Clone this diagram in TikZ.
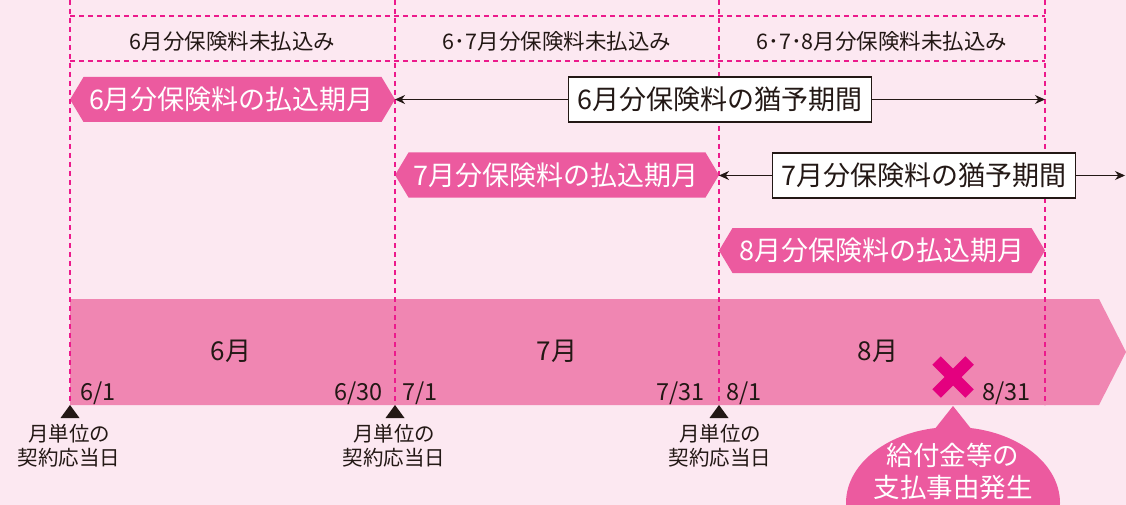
\documentclass[tikz,border=0pt]{standalone}
\usepackage{fontspec}
\setmainfont{Noto Sans CJK JP}
\usetikzlibrary{arrows.meta}
\definecolor{bgpink}{HTML}{FCE8F1}
\definecolor{barpink}{HTML}{F086B2}
\definecolor{hexpink}{HTML}{EC5A9F}
\definecolor{dashpink}{HTML}{EC1A8C}
\definecolor{crosspink}{HTML}{E4007F}
\definecolor{ink}{HTML}{231815}
\begin{document}
\begin{tikzpicture}[x=1pt,y=-1pt,
  guide/.style={dashpink, line width=2.3pt, dash pattern=on 5pt off 4pt},
  hextext/.style={text=white, font=\fontsize{27}{31}\selectfont, inner sep=0pt},
  headtext/.style={text=ink, font=\fontsize{21.5}{25}\selectfont, inner sep=0pt},
  monthtext/.style={text=ink, font=\fontsize{26}{30}\selectfont, inner sep=0pt},
  datetext/.style={text=ink, font=\fontsize{23.5}{27}\selectfont, inner sep=0pt},
  contractlbl/.style={text=ink, font=\fontsize{20.5}{24}\selectfont, inner sep=0pt, align=center},
  gracebox/.style={draw=ink, fill=white, line width=1.3pt, text=ink,
    font=\fontsize{27}{31}\selectfont, inner xsep=9pt, inner ysep=0pt, minimum height=45pt},
  spanarrow/.style={ink, line width=1.3pt, arrows={Stealth[length=10pt,width=9pt]-Stealth[length=10pt,width=9pt]}},
]
\useasboundingbox (0,0) rectangle (1126,505);
\clip (0,0) rectangle (1126,505);
\fill[bgpink] (0,0) rectangle (1126,505);

% timeline bar
\fill[barpink] (70,299) -- (1099,299) -- (1126,352) -- (1099,405) -- (70,405) -- cycle;

% payment-month hexagons
\fill[hexpink] (70,99.5) -- (83.5,77) -- (381.5,77) -- (395,99.5) -- (381.5,122) -- (83.5,122) -- cycle;
\fill[hexpink] (395,175) -- (408.5,152.5) -- (705.5,152.5) -- (719,175) -- (705.5,197.5) -- (408.5,197.5) -- cycle;
\fill[hexpink] (719,250.5) -- (732.5,228) -- (1031.5,228) -- (1045,250.5) -- (1031.5,273) -- (732.5,273) -- cycle;

% guide lines
\foreach \gx in {70,395,719,1045} \draw[guide] (\gx,0) -- (\gx,405);
\draw[guide] (70,16) -- (1045,16);
\draw[guide] (70,61) -- (1045,61);

% triangles
\foreach \tx in {70,395,719} \fill[ink] (\tx,405) -- (\tx+9.5,418) -- (\tx-9.5,418) -- cycle;

% grace period arrows
\coordinate (a1l) at (395,99.5);
\coordinate (a1r) at (1045,99.5);
\draw[spanarrow] (a1l) -- (a1r);
\node[gracebox] (g6) at (720,99.5) {6月分保険料の猶予期間};
\coordinate (a2l) at (719,175.5);
\coordinate (a2r) at (1125,175.5);
\draw[spanarrow] (a2l) -- (a2r);
\node[gracebox] (g7) at (924,175.5) {7月分保険料の猶予期間};

% header texts
\node[headtext] (h1) at (232.5,41) {6月分保険料未払込み};
\node[headtext] (h2) at (557,41) {6･7月分保険料未払込み};
\node[headtext] (h3) at (882,41) {6･7･8月分保険料未払込み};

% hexagon texts
\node[hextext] (p6) at (231.5,99.5) {6月分保険料の払込期月};
\node[hextext] (p7) at (556,175) {7月分保険料の払込期月};
\node[hextext] (p8) at (882,250.5) {8月分保険料の払込期月};

% months
\node[monthtext] (m6) at (231,351) {6月};
\node[monthtext] (m7) at (557,351) {7月};
\node[monthtext] (m8) at (878,351) {8月};

% dates
\node[datetext, anchor=base west] (d61) at (80,400) {6/1};
\node[datetext, anchor=base east] (d630) at (383,400) {6/30};
\node[datetext, anchor=base west] (d71) at (402,400) {7/1};
\node[datetext, anchor=base east] (d731) at (705,400) {7/31};
\node[datetext, anchor=base west] (d81) at (726,400) {8/1};
\node[datetext, anchor=base east] (d831) at (1031,400) {8/31};

% contract date labels
\node[contractlbl] (c1) at (69,446) {月単位の\\契約応当日};
\node[contractlbl] (c2) at (394,446) {月単位の\\契約応当日};
\node[contractlbl] (c3) at (720,446) {月単位の\\契約応当日};

% cross mark
\draw[crosspink, line width=12pt, line cap=butt] (936.5,360.5) -- (969.5,393.5);
\draw[crosspink, line width=12pt, line cap=butt] (969.5,360.5) -- (936.5,393.5);

% speech bubble
\fill[hexpink] (930,435) -- (953,406) -- (976,435) -- cycle;
\fill[hexpink] (953,503) ellipse [x radius=107pt, y radius=76pt];
\node[hextext, align=center, font=\fontsize{26.5}{32}\selectfont] (bub) at (953,471) {給付金等の\\支払事由発生};
\end{tikzpicture}
\end{document}
